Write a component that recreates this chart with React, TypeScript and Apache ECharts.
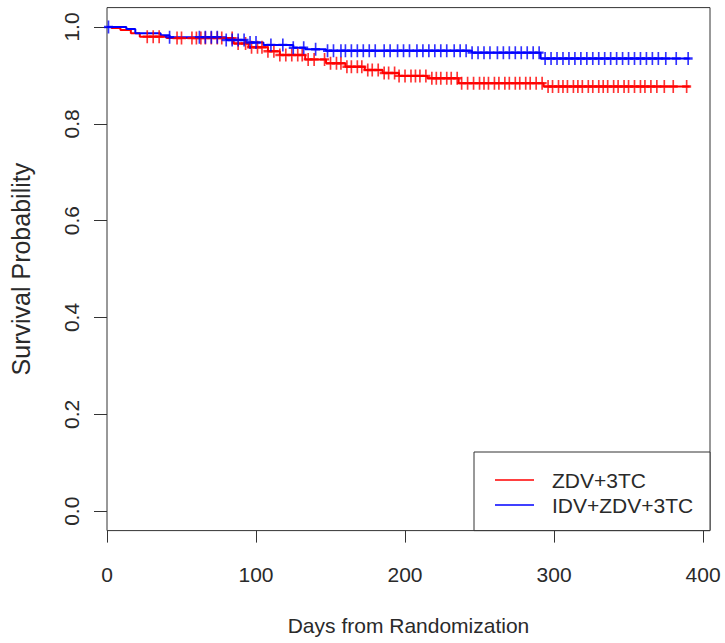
import React, { useEffect, useRef } from "react";
import * as echarts from "echarts";

// Kaplan-Meier step points [day, survival]
const zdvSteps: [number, number][] = [
  [0, 1], [3, 0.998], [9, 0.994], [16, 0.987], [22, 0.98], [40, 0.977], [85, 0.966],
  [95, 0.958], [108, 0.95], [116, 0.942], [133, 0.933], [147, 0.925], [160, 0.918],
  [173, 0.911], [185, 0.905], [196, 0.899], [215, 0.894], [236, 0.884], [293, 0.877],
  [391, 0.877],
];
const idvSteps: [number, number][] = [
  [0, 1], [13, 0.996], [19, 0.987], [36, 0.983], [42, 0.979], [80, 0.973], [93, 0.968],
  [105, 0.963], [125, 0.957], [133, 0.954], [147, 0.951], [245, 0.947], [291, 0.935],
  [391, 0.935],
];
// censoring times (days), read from the "+" marks
const zdvCensor: number[] = [
  27, 31, 35, 47, 50, 57, 60, 63, 66, 70, 74, 77, 84, 88, 93, 97, 101, 104, 108, 112, 116,
  120, 124, 128, 131, 135, 139, 146, 150, 154, 157, 161, 164, 168, 171, 175, 178, 182, 186,
  189, 193, 196, 200, 204, 207, 210, 214, 218, 221, 224, 228, 231, 235, 238, 242, 246, 250,
  253, 256, 260, 263, 267, 270, 274, 277, 281, 284, 288, 292, 296, 299, 303, 306, 309, 313,
  316, 319, 323, 326, 330, 333, 336, 340, 343, 347, 350, 354, 358, 361, 365, 369, 374, 380,
  389,
];
const idvCensor: number[] = [
  1, 42, 62, 66, 70, 74, 80, 84, 88, 92, 96, 100, 110, 118, 125, 132, 140, 148, 152, 157,
  160, 164, 168, 172, 176, 180, 186, 190, 195, 199, 203, 208, 212, 216, 220, 224, 228, 233,
  237, 241, 245, 249, 253, 257, 262, 266, 270, 274, 278, 282, 286, 290, 294, 298, 302, 306,
  310, 314, 318, 322, 326, 330, 334, 338, 342, 346, 350, 354, 358, 362, 366, 370, 375, 382,
  390,
];
const seriesNames = ["ZDV+3TC", "IDV+ZDV+3TC"];
const xTicks = [0, 100, 200, 300, 400];
const yTicks = [0, 0.2, 0.4, 0.6, 0.8, 1.0];

const RED = "#ff0000";
const BLUE = "#0000ff";
const FONT = "Liberation Sans, Arial, sans-serif";
const TXT = "#2a2a2a";

function survAt(steps: [number, number][], t: number): number {
  let s = steps[0][1];
  for (const [d, v] of steps) {
    if (d <= t) s = v;
    else break;
  }
  return s;
}

const PLUS = "path://M5,0L5,12M0,6L10,6";

export default function App() {
  const ref = useRef<HTMLDivElement>(null);
  useEffect(() => {
    if (!ref.current) return;
    const chart = echarts.init(ref.current, undefined, { renderer: "svg" });
    const gridLeft = 103;
    const gridTop = 7.6;
    const gridW = 607;
    const gridH = 523;
    const mk = (color: string, steps: [number, number][], cens: number[], name: string) => [
      {
        name,
        type: "line",
        step: "end",
        data: steps,
        symbol: "none",
        lineStyle: { color, width: 2 },
        silent: true,
        z: 2,
      },
      {
        name: name + " censored",
        type: "scatter",
        data: cens.map((d) => [d, survAt(steps, d)]),
        symbol: PLUS,
        symbolSize: [9, 13],
        itemStyle: { color: "rgba(0,0,0,0)", borderColor: color, borderWidth: 2 },
        silent: true,
        z: 3,
      },
    ];
    chart.setOption({
      animation: false,
      backgroundColor: "#ffffff",
      grid: {
        left: gridLeft,
        top: gridTop,
        width: gridW,
        height: gridH,
        show: true,
        borderColor: "#333",
        borderWidth: 1,
        containLabel: false,
      },
      xAxis: {
        type: "value",
        min: 0,
        max: gridW / 1.5,
        axisLine: { show: false, onZero: false },
        splitLine: { show: false },
        axisTick: {
          show: true,
          length: 12,
          inside: false,
          customValues: xTicks,
          lineStyle: { color: "#333", width: 1 },
        },
        axisLabel: {
          customValues: xTicks,
          fontFamily: FONT,
          fontSize: 21,
          color: TXT,
          margin: 33,
        },
        name: "Days from Randomization",
        nameLocation: "middle",
        nameGap: 84,
        nameTextStyle: { fontFamily: FONT, fontSize: 21, color: TXT },
      },
      yAxis: {
        type: "value",
        min: -0.04,
        max: 1.04,
        axisLine: { show: false, onZero: false },
        splitLine: { show: false },
        axisTick: {
          show: true,
          length: 13,
          inside: false,
          customValues: yTicks,
          lineStyle: { color: "#333", width: 1 },
        },
        axisLabel: {
          customValues: yTicks,
          formatter: (v: number) => v.toFixed(1),
          rotate: 90,
          fontFamily: FONT,
          fontSize: 21,
          color: TXT,
          margin: 25,
        },
        name: "Survival Probability",
        nameLocation: "middle",
        nameRotate: 90,
        nameGap: 74,
        nameTextStyle: { fontFamily: FONT, fontSize: 25, color: TXT },
      },
      series: [
        ...mk(RED, zdvSteps, zdvCensor, seriesNames[0]),
        ...mk(BLUE, idvSteps, idvCensor, seriesNames[1]),
      ],
      graphic: [
        {
          type: "rect",
          shape: { x: 474, y: 452, width: 236, height: gridTop + gridH - 452 },
          style: { fill: "#fff", stroke: "#333", lineWidth: 1 },
          z: 10,
        },
        {
          type: "line",
          shape: { x1: 495, y1: 480, x2: 534, y2: 480 },
          style: { stroke: RED, lineWidth: 1.6 },
          z: 11,
        },
        {
          type: "line",
          shape: { x1: 495, y1: 505, x2: 534, y2: 505 },
          style: { stroke: BLUE, lineWidth: 1.6 },
          z: 11,
        },
        {
          type: "text",
          x: 552,
          y: 480,
          style: {
            text: seriesNames[0],
            fontFamily: FONT,
            fontSize: 21,
            fill: TXT,
            verticalAlign: "middle",
            align: "left",
          },
          z: 11,
        },
        {
          type: "text",
          x: 552,
          y: 505,
          style: {
            text: seriesNames[1],
            fontFamily: FONT,
            fontSize: 21,
            fill: TXT,
            verticalAlign: "middle",
            align: "left",
          },
          z: 11,
        },
      ],
    });
    return () => chart.dispose();
  }, []);
  return (
    <div
      ref={ref}
      style={{ position: "fixed", left: 0, top: 0, width: 725, height: 643 }}
    />
  );
}
